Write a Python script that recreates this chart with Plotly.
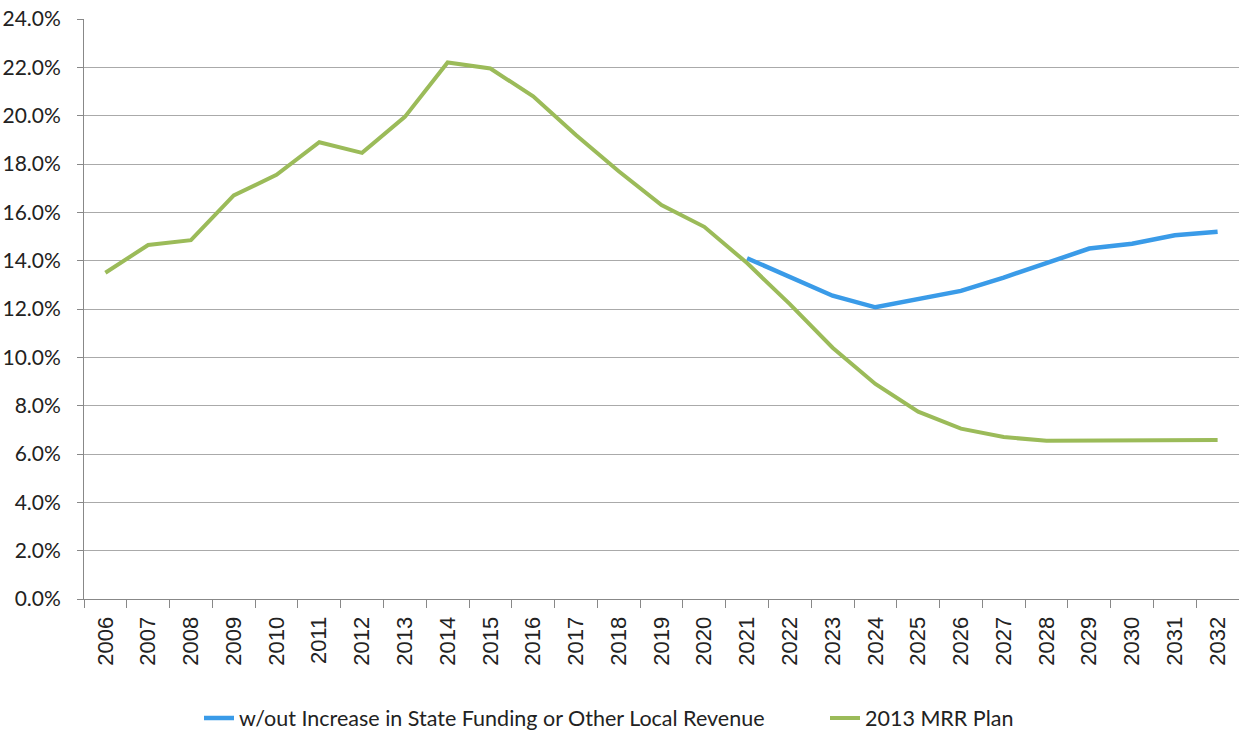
import plotly.graph_objects as go

years = [str(y) for y in range(2006, 2033)]
mrr_plan = [13.5, 14.65, 14.85, 16.7, 17.55, 18.9, 18.46, 19.95, 22.2, 21.95, 20.8,
            19.2, 17.7, 16.3, 15.4, 13.9, 12.2, 10.4, 8.9, 7.75, 7.05, 6.7, 6.55,
            6.55, 6.57, 6.58, 6.58]
no_increase_years = years[15:]
no_increase = [14.1, 13.35, 12.55, 12.07, 12.4, 12.75, 13.3, 13.9, 14.5, 14.7, 15.05, 15.2]

y_ticks = [0, 2, 4, 6, 8, 10, 12, 14, 16, 18, 20, 22, 24]
y_labels = [f"{v:.1f}%" for v in y_ticks]

W, H = 1239, 732
L, R, T, B = 84, 0, 19, 133
pw, ph = W - L - R, H - T - B

fig = go.Figure()
fig.add_trace(go.Scatter(x=no_increase_years, y=no_increase, mode="lines",
                         name="w/out Increase in State Funding or Other Local Revenue",
                         line=dict(color="#3A9BE8", width=4.5), legend="legend"))
fig.add_trace(go.Scatter(x=years, y=mrr_plan, mode="lines", name="2013 MRR Plan",
                         line=dict(color="#9BBB59", width=4), legend="legend2"))

leg_font = dict(size=21.5, family="Lato, Carlito, Arial", color="#222222")
leg_y = (599 - 718) / ph
fig.update_layout(
    width=W, height=H,
    margin=dict(l=L, r=R, t=T, b=B, autoexpand=False),
    paper_bgcolor="white", plot_bgcolor="white",
    font=dict(family="Lato, Carlito, Arial", color="#222222"),
    legend=dict(x=(199 - L) / pw, xanchor="left", y=leg_y, yanchor="middle",
                font=leg_font, bgcolor="rgba(0,0,0,0)"),
    legend2=dict(x=(825 - L) / pw, xanchor="left", y=leg_y, yanchor="middle",
                 font=leg_font, bgcolor="rgba(0,0,0,0)"),
    showlegend=True,
)
fig.update_xaxes(type="category", categoryorder="array", categoryarray=years,
                 tickangle=-90, tickson="boundaries", ticks="outside", ticklen=8,
                 tickcolor="#888888", showline=True, linecolor="#888888", linewidth=1,
                 showgrid=False, automargin=False, ticklabelstandoff=8,
                 tickfont=dict(family="Liberation Sans, Arial", size=22, color="#222222"),
                 range=[-0.5, 26.5])
fig.update_yaxes(range=[0, 24], tickvals=y_ticks, ticktext=y_labels,
                 showgrid=True, gridcolor="#AAAAAA", gridwidth=1,
                 showline=True, linecolor="#888888", linewidth=1,
                 ticks="outside", ticklen=6, tickcolor="#888888", zeroline=False,
                 automargin=False, ticklabelstandoff=12,
                 tickfont=dict(family="Lato, Carlito, Arial", size=21, color="#222222"))

fig.write_html("out.html", config={"displayModeBar": False},
               post_script="document.body.style.margin='0';document.body.style.overflow='hidden';")
